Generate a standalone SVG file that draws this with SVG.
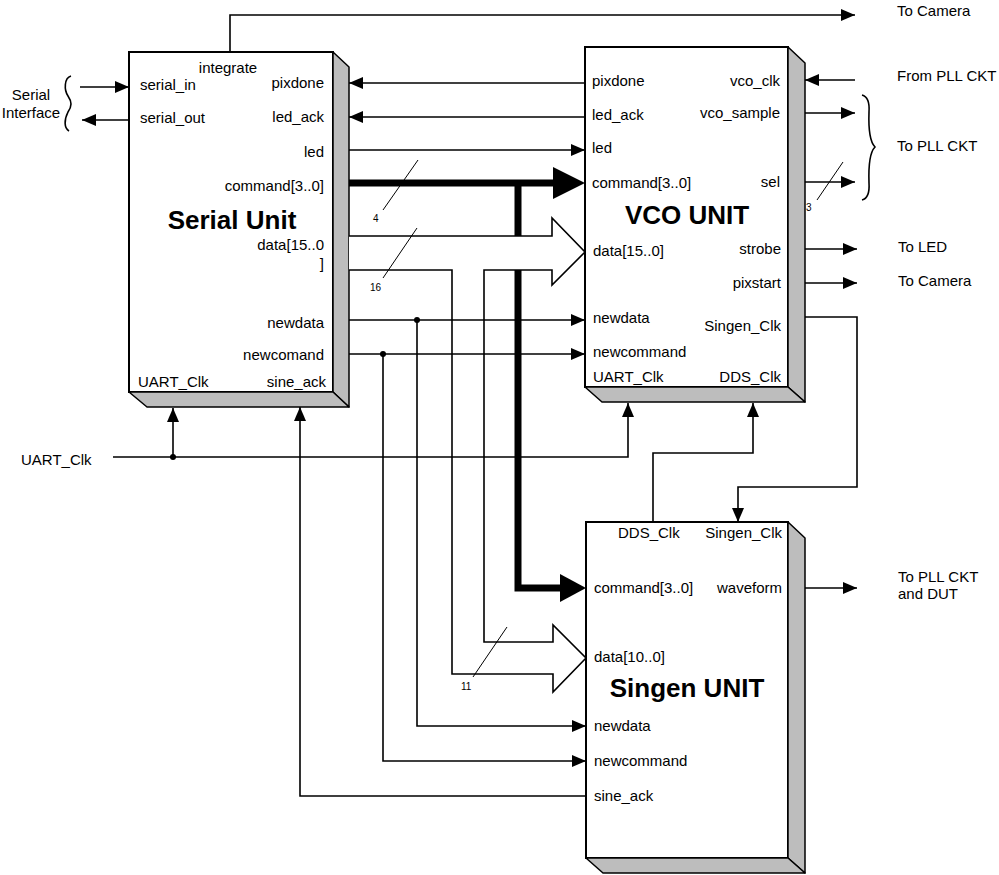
<svg xmlns="http://www.w3.org/2000/svg" width="999" height="875" viewBox="0 0 999 875">
<style>
text{font-family:"Liberation Sans",Arial,sans-serif;font-size:15px;fill:#000}
.r{text-anchor:end}.m{text-anchor:middle}
.title{font-size:26px;font-weight:bold}
.small{font-size:10px}
.front{fill:#fff;stroke:#000;stroke-width:2}
.shade{fill:#bdbdbd;stroke:#000;stroke-width:1.5;stroke-linejoin:round}
.w{fill:none;stroke:#000;stroke-width:1.6}
.wa{fill:none;stroke:#000;stroke-width:1.6;marker-end:url(#arr)}
.thick{fill:none;stroke:#000;stroke-width:7}
.bus{fill:#fff;stroke:#000;stroke-width:1.6}
.thin{fill:none;stroke:#000;stroke-width:1}
</style>
<defs>
<marker id="arr" viewBox="0 0 14 12" refX="14" refY="6" markerWidth="14" markerHeight="12" markerUnits="userSpaceOnUse" orient="auto">
<path d="M0,0 L14,6 L0,12 z" fill="#000"/>
</marker>
</defs>
<rect width="999" height="875" fill="#fff"/>

<g id="serial_unit">
<rect class="front" x="129" y="52" width="204" height="340"/>
<polygon class="shade" points="333,52 349,67 349,407 333,392"/>
<polygon class="shade" points="129,392 333,392 349,407 147,407"/>
<text class="m" x="228" y="73">integrate</text>
<text x="140" y="90">serial_in</text>
<text class="r" x="324" y="88">pixdone</text>
<text x="140" y="123">serial_out</text>
<text class="r" x="324" y="122">led_ack</text>
<text class="r" x="324" y="157">led</text>
<text class="r" x="324" y="191">command[3..0]</text>
<text class="m title" x="232" y="229">Serial Unit</text>
<text class="r" x="324" y="250">data[15..0</text>
<text class="r" x="324" y="269">]</text>
<text class="r" x="324" y="328">newdata</text>
<text class="r" x="324" y="360">newcomand</text>
<text x="138" y="387">UART_Clk</text>
<text class="r" x="326" y="387">sine_ack</text>
</g>

<g id="vco_unit">
<rect class="front" x="585" y="47" width="203" height="340"/>
<polygon class="shade" points="788,47 805,63 805,402 788,387"/>
<polygon class="shade" points="585,387 788,387 805,402 602,402"/>
<text x="592" y="86">pixdone</text>
<text x="592" y="120">led_ack</text>
<text x="592" y="153">led</text>
<text x="592" y="188">command[3..0]</text>
<text class="r" x="780" y="86">vco_clk</text>
<text class="r" x="780" y="118">vco_sample</text>
<text class="r" x="780" y="187">sel</text>
<text class="m title" x="687" y="224">VCO UNIT</text>
<text x="593" y="256">data[15..0]</text>
<text class="r" x="781" y="254">strobe</text>
<text class="r" x="781" y="288">pixstart</text>
<text x="593" y="323">newdata</text>
<text class="r" x="781" y="331">Singen_Clk</text>
<text x="593" y="357">newcommand</text>
<text x="593" y="382">UART_Clk</text>
<text class="r" x="781" y="382">DDS_Clk</text>
</g>

<g id="singen_unit">
<rect class="front" x="586" y="522" width="202" height="336"/>
<polygon class="shade" points="788,522 805,538 805,873 788,858"/>
<polygon class="shade" points="586,858 788,858 805,873 603,873"/>
<text x="618" y="538">DDS_Clk</text>
<text class="r" x="782" y="538">Singen_Clk</text>
<text x="594" y="593">command[3..0]</text>
<text class="r" x="782" y="593">waveform</text>
<text x="594" y="662">data[10..0]</text>
<text class="m title" x="687" y="697">Singen UNIT</text>
<text x="594" y="731">newdata</text>
<text x="594" y="766">newcommand</text>
<text x="594" y="801">sine_ack</text>
</g>

<g id="connectors">
<path class="wa" d="M230,52 V15 H855"/>
<path class="wa" d="M80,87 H129"/>
<path class="wa" d="M129,120 H82"/>
<path class="wa" d="M585,83 H349"/>
<path class="wa" d="M585,117 H349"/>
<path class="wa" d="M349,150 H585"/>
<path class="thick" d="M349,183 H556"/>
<polygon points="553,167 585,183 553,199" fill="#000"/>
<path class="thick" d="M518,183 V588 H562"/>
<polygon points="560,574 586,588 560,602" fill="#000"/>
<path class="bus" d="M349,236 H552 V218 L585,252 L552,285 V270 H484 V642 H553 V625 L586,658 L553,692 V674 H452 V270 H349"/>
<path class="thin" d="M383,210 L418,160"/>
<path class="thin" d="M383,278 L417,228"/>
<path class="thin" d="M473,677 L507,627"/>
<path class="wa" d="M349,320 H585"/>
<path class="wa" d="M417,320 V726 H586"/>
<circle cx="417" cy="320" r="3"/>
<path class="wa" d="M349,354 H585"/>
<path class="wa" d="M383,354 V761 H586"/>
<circle cx="383" cy="354" r="3"/>
<path class="wa" d="M586,796 H300 V407"/>
<path class="wa" d="M113,457 H628 V403"/>
<path class="wa" d="M173,457 V408"/>
<circle cx="173" cy="457" r="3"/>
<path class="wa" d="M653,522 V453 H753 V403"/>
<path class="wa" d="M805,317 H857 V487 H738 V522"/>
<path class="wa" d="M855,80 H805"/>
<path class="wa" d="M805,113 H855"/>
<path class="wa" d="M805,182 H855"/>
<path class="thin" d="M817,200 L843,162"/>
<path class="wa" d="M805,249 H857"/>
<path class="wa" d="M805,283 H857"/>
<path class="wa" d="M805,588 H857"/>
<path class="w" d="M71,76 C64,78 64,90 68,96 C72,102 72,106 68,112 C64,120 64,128 69,131"/>
<path class="w" d="M862,95 Q870,97 869,112 Q868,140 875,147 Q868,154 869,183 Q870,198 862,200"/>
</g>

<g id="labels">
<text class="small" x="373" y="222">4</text>
<text class="small" x="370" y="291">16</text>
<text class="small" x="461" y="690">11</text>
<text class="small" x="806" y="211">3</text>
<text x="897" y="16">To Camera</text>
<text x="897" y="81">From PLL CKT</text>
<text x="897" y="151">To PLL CKT</text>
<text x="898" y="252">To LED</text>
<text x="898" y="286">To Camera</text>
<text x="898" y="582">To PLL CKT</text>
<text x="898" y="599">and DUT</text>
<text class="m" x="31" y="100">Serial</text>
<text class="m" x="31" y="118">Interface</text>
<text x="21" y="465">UART_Clk</text>
</g>
</svg>
